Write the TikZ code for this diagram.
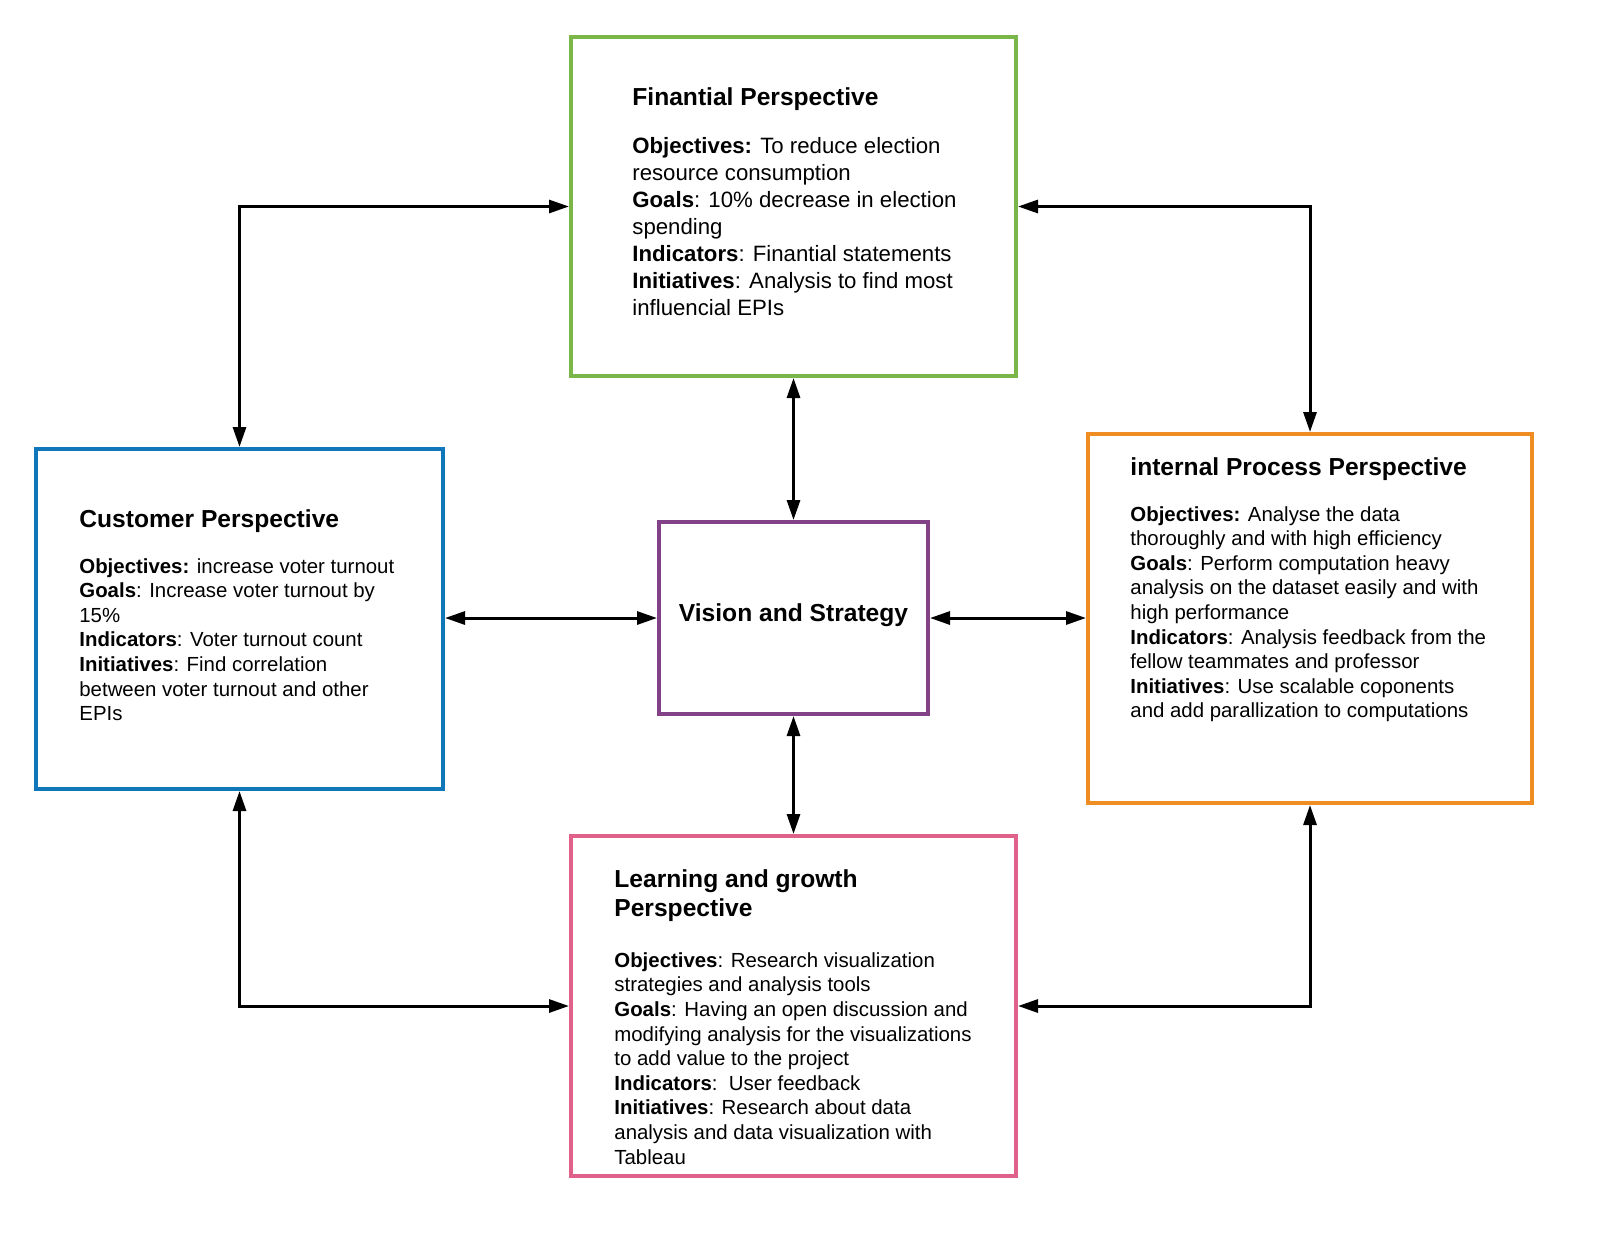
\documentclass[tikz,border=0pt]{standalone}
\usepackage{fontspec}
\setmainfont{Liberation Sans}
\usetikzlibrary{arrows.meta}
\definecolor{cgreen}{RGB}{122,182,72}
\definecolor{cblue}{RGB}{16,120,186}
\definecolor{cpurple}{RGB}{131,65,135}
\definecolor{corange}{RGB}{239,141,34}
\definecolor{cpink}{RGB}{224,98,139}
\begin{document}
\begin{tikzpicture}[x=0.5pt,y=-0.5pt,
  box/.style={draw, line width=2pt, fill=white, inner sep=0pt},
  ttl/.style={anchor=north west, inner sep=0pt, align=left, font=\fontsize{12.3}{14.5}\selectfont\bfseries},
  bodysmall/.style={anchor=north west, inner sep=0pt, align=left, font=\fontsize{10.2}{12.3}\selectfont},
  bodybig/.style={anchor=north west, inner sep=0pt, align=left, font=\fontsize{11.1}{13.5}\selectfont},
  arr/.style={line width=1.5pt, {Triangle[length=10pt,width=6.5pt]}-{Triangle[length=10pt,width=6.5pt]}}]
\useasboundingbox[fill=white] (0,0) rectangle (1600,1238);
% boxes
\node[box, draw=cgreen, minimum width=222.5pt, minimum height=169.5pt] (fin) at (793.5,206.5) {};
\node[box, draw=cblue, minimum width=203.5pt, minimum height=170pt] (cust) at (239.5,619) {};
\node[box, draw=cpurple, minimum width=134.5pt, minimum height=96pt] (vis) at (793.5,618) {};
\node[box, draw=corange, minimum width=222pt, minimum height=184.5pt] (int) at (1310,618.5) {};
\node[box, draw=cpink, minimum width=222.5pt, minimum height=170pt] (lrn) at (793.5,1006) {};
% texts
\node[ttl] (fint) at (632,87) {Finantial Perspective};
\node[bodybig] (finb) at (632,137) {\textbf{Objectives:} To reduce election\\ resource consumption\\ \textbf{Goals}: 10\% decrease in election\\ spending\\ \textbf{Indicators}: Finantial statements\\ \textbf{Initiatives}: Analysis to find most\\ influencial EPIs};
\node[ttl] (custt) at (79,509) {Customer Perspective};
\node[bodysmall] (custb) at (79,558) {\textbf{Objectives:} increase voter turnout\\ \textbf{Goals}: Increase voter turnout by\\ 15\%\\ \textbf{Indicators}: Voter turnout count\\ \textbf{Initiatives}: Find correlation\\ between voter turnout and other\\ EPIs};
\node[ttl] (intt) at (1130,457) {internal Process Perspective};
\node[bodysmall] (intb) at (1130,506) {\textbf{Objectives:} Analyse the data\\ thoroughly and with high efficiency\\ \textbf{Goals}: Perform computation heavy\\ analysis on the dataset easily and with\\ high performance\\ \textbf{Indicators}: Analysis feedback from the\\ fellow teammates and professor\\ \textbf{Initiatives}: Use scalable coponents\\ and add parallization to computations};
\node[ttl] (lrnt) at (614,869) {Learning and growth\\ Perspective};
\node[bodysmall] (lrnb) at (614,952) {\textbf{Objectives}: Research visualization\\ strategies and analysis tools\\ \textbf{Goals}: Having an open discussion and\\ modifying analysis for the visualizations\\ to add value to the project\\ \textbf{Indicators}:~~User feedback\\ \textbf{Initiatives}: Research about data\\ analysis and data visualization with\\ Tableau};
\node[font=\fontsize{12.3}{14.5}\selectfont\bfseries, inner sep=0pt] (vist) at (793.5,615) {Vision and Strategy};
% connectors
\draw[arr] (cust.north) |- (fin.west);
\draw[arr] (fin.east) -| (int.north);
\draw[arr] (fin.south) -- (vis.north);
\draw[arr] (vis.west -| cust.east) -- (vis.west);
\draw[arr] (vis.east) -- (vis.east -| int.west);
\draw[arr] (vis.south) -- (lrn.north);
\draw[arr] (cust.south) |- (lrn.west);
\draw[arr] (int.south) |- (lrn.east);
\end{tikzpicture}
\end{document}
